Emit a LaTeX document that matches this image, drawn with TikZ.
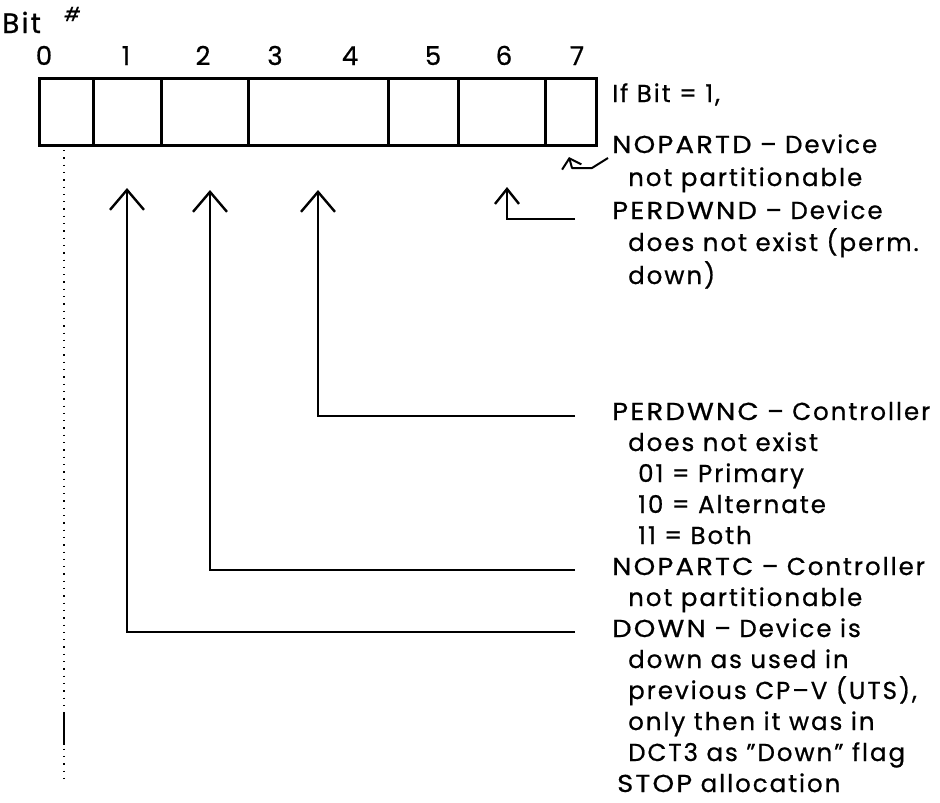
\documentclass[tikz,border=0pt]{standalone}
\usepackage{fontspec}
\setmainfont{Poppins}[LetterSpace=8,FakeBold=0.7]
\usetikzlibrary{arrows.meta}
\newcommand{\capw}[1]{\scalebox{1.12}[1]{#1}}
\begin{document}
\begin{tikzpicture}[x=1pt,y=-1pt,
  txt/.style={anchor=base west, inner sep=0pt, font=\fontsize{24.5}{28}\selectfont},
  bitnum/.style={anchor=base, inner sep=0pt, font=\fontsize{26}{30}\selectfont},
  cell/.style={draw, line width=2.8pt, minimum height=67pt, inner sep=0pt, anchor=north west},
  ptr/.style={line width=2.8pt, line join=miter, -{Straight Barb[length=20pt,width=34pt,line width=2.4pt]}},
  smallptr/.style={line width=2.8pt, line join=miter, -{Straight Barb[length=15pt,width=24pt,line width=2.4pt]}},
  hookptr/.style={line width=2pt, line join=round, -{Straight Barb[length=9pt,width=20pt,line width=2pt]}},
  guide/.style={line width=1.3pt, dash pattern=on 1.3pt off 6pt}
]
\useasboundingbox (0,0) rectangle (940,803);
% header
\node[anchor=base west, inner sep=0pt, font=\fontsize{28}{32}\selectfont] (bit) at (2,33) {Bit};
\node[anchor=base west, inner sep=0pt, font=\fontsize{19}{22}\selectfont\itshape] (hash) at (64,21) {\#};
% register cells
\node[cell, minimum width=54pt] (c0) at (38,77) {};
\node[cell, minimum width=68pt] (c1) at (92,77) {};
\node[cell, minimum width=87pt] (c2) at (160,77) {};
\node[cell, minimum width=140pt] (c34) at (247,77) {};
\node[cell, minimum width=70pt] (c5) at (387,77) {};
\node[cell, minimum width=87pt] (c6) at (457,77) {};
\node[cell, minimum width=51pt] (c7) at (544,77) {};
% bit numbers
\node[bitnum] (n0) at (44,65) {0};
\node[bitnum] (n1) at (126,65) {1};
\node[bitnum] (n2) at (203,65) {2};
\node[bitnum] (n3) at (275,65) {3};
\node[bitnum] (n4) at (350,65) {4};
\node[bitnum] (n5) at (433,65) {5};
\node[bitnum] (n6) at (504,65) {6};
\node[bitnum] (n7) at (577,65) {7};
% right-hand texts
\node[txt] (t1) at (612,102) {If Bit = 1,};
\node[txt] (t2) at (612,153) {\capw{NOPARTD} – Device};
\node[txt] (t3) at (628,186) {not partitionable};
\node[txt] (t4) at (612,219) {\capw{PERDWND} – Device};
\node[txt] (t5) at (628,251) {does not exist (perm.};
\node[txt] (t6) at (628,284) {down)};
\node[txt] (t7) at (612,420) {\capw{PERDWNC} – Controller};
\node[txt] (t8) at (628,451) {does not exist};
\node[txt] (t9) at (638,482) {01 = Primary};
\node[txt] (t10) at (638,513) {10 = Alternate};
\node[txt] (t11) at (638,544) {11 = Both};
\node[txt] (t12) at (612,575) {\capw{NOPARTC} – Controller};
\node[txt] (t13) at (628,606) {not partitionable};
\node[txt] (t14) at (612,637) {\capw{DOWN} – Device is};
\node[txt] (t15) at (628,668) {down as used in};
\node[txt] (t16) at (628,699) {previous CP–V (UTS),};
\node[txt] (t17) at (628,730) {only then it was in};
\node[txt] (t18) at (628,761) {DCT3 as "Down" flag};
\node[txt] (t19) at (617,792) {\capw{STOP} allocation};
% pointer coordinates
\coordinate (e6) at (575,219);
\coordinate (e34) at (575,416);
\coordinate (e2) at (575,570);
\coordinate (e1) at (575,632);
\coordinate (h7) at (608,158);
% pointers
\draw[smallptr] (e6) -- (507,219) -- (507,187);
\draw[ptr] (e34) -- (318,416) -- (318,190);
\draw[ptr] (e2) -- (210,570) -- (210,190);
\draw[ptr] (e1) -- (127,632) -- (127,188);
\draw[hookptr] (h7) -- (592,168) -- (572,168) -- (569,157);
% bit 0 guide
\draw[guide] (64,150) -- (64,785);
\draw[line width=2.4pt] (64,712) -- (64,745);
\end{tikzpicture}
\end{document}
